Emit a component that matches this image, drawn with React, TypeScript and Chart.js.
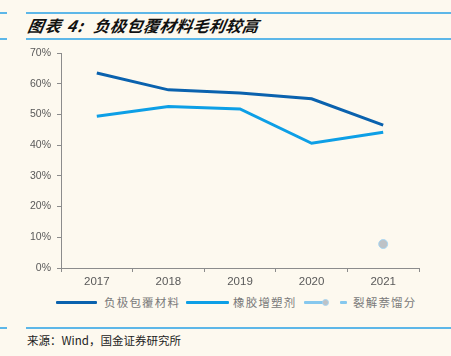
import React, { useEffect, useRef } from "react";
import { Chart, registerables } from "chart.js";

Chart.register(...registerables);

const categories = ["2017", "2018", "2019", "2020", "2021"];
const anodeCoating = [63.5, 58.0, 57.0, 55.1, 46.5];
const rubberPlasticizer = [49.4, 52.6, 51.8, 40.6, 44.2];
const unnamedSeries = [null, null, null, null, 7.8];
const crackedNaphthalene = [null, null, null, null, null];
const yTicks = [0, 10, 20, 30, 40, 50, 60, 70];

const seriesNames = ["负极包覆材料", "橡胶增塑剂", "", "裂解萘馏分"];
const titleLabel = "图表 4:";
const titleText = "负极包覆材料毛利较高";
const sourceText = "来源：Wind，国金证券研究所";

const BG = "#FDF9EF";
const DARK = "#0A62AE";
const LIGHT = "#0D9FE6";
const PALE = "#86C8EE";
const RULE = "#5DB7E8";

export default function App() {
  const ref = useRef<HTMLCanvasElement | null>(null);

  useEffect(() => {
    if (!ref.current) return;
    const chart = new Chart(ref.current, {
      type: "line",
      data: {
        labels: categories,
        datasets: [
          {
            label: seriesNames[0],
            data: anodeCoating,
            borderColor: DARK,
            backgroundColor: DARK,
            borderWidth: 3,
            pointRadius: 0,
            tension: 0,
          },
          {
            label: seriesNames[1],
            data: rubberPlasticizer,
            borderColor: LIGHT,
            backgroundColor: LIGHT,
            borderWidth: 3,
            pointRadius: 0,
            tension: 0,
          },
          {
            label: seriesNames[2],
            data: unnamedSeries,
            borderColor: PALE,
            backgroundColor: "#BFC3C6",
            borderWidth: 3,
            pointRadius: 4.5,
            pointBorderWidth: 1,
            pointBorderColor: "#A8D6F2",
            pointBackgroundColor: "#BEC2C6",
            tension: 0,
          },
          {
            label: seriesNames[3],
            data: crackedNaphthalene,
            borderColor: PALE,
            backgroundColor: PALE,
            borderWidth: 3,
            pointRadius: 0,
          },
        ],
      },
      options: {
        animation: false,
        responsive: false,
        maintainAspectRatio: false,
        layout: { padding: { top: 13, right: 32, left: 0, bottom: 0 } },
        plugins: { legend: { display: false }, tooltip: { enabled: false } },
        scales: {
          x: {
            offset: true,
            grid: {
              offset: true,
              drawOnChartArea: false,
              drawTicks: true,
              tickLength: 4,
              color: "#8C8C8C",
            },
            border: { display: true, color: "#8C8C8C", width: 1 },
            ticks: {
              color: "#595959",
              font: { family: "Arial, 'Liberation Sans'", size: 11.5 },
              padding: 3,
              maxRotation: 0,
            },
            afterFit: (s: any) => {
              s.height = 22;
            },
          },
          y: {
            min: 0,
            max: 70,
            afterBuildTicks: (s: any) => {
              s.ticks = yTicks.map((v) => ({ value: v }));
            },
            grid: {
              drawOnChartArea: false,
              drawTicks: true,
              tickLength: 4,
              color: "#8C8C8C",
            },
            border: { display: true, color: "#8C8C8C", width: 1 },
            ticks: {
              color: "#595959",
              font: { family: "Arial, 'Liberation Sans'", size: 10.5 },
              padding: 6,
              callback: (v: any) => `${v}%`,
            },
            afterFit: (s: any) => {
              s.width = 61;
            },
          },
        },
      },
    });
    return () => chart.destroy();
  }, []);

  const legendText: React.CSSProperties = {
    position: "absolute",
    top: 294,
    fontFamily: "'Noto Sans CJK SC', sans-serif",
    fontSize: 11.5,
    letterSpacing: 1.2,
    color: "#7A7A7A",
    lineHeight: "16px",
    whiteSpace: "nowrap",
  };

  const swatch = (left: number, width: number, color: string): React.CSSProperties => ({
    position: "absolute",
    left,
    top: 301,
    width,
    height: 3,
    background: color,
    borderRadius: 1,
  });

  const titleStyle: React.CSSProperties = {
    position: "absolute",
    top: 14,
    fontFamily: "'Noto Sans CJK SC', sans-serif",
    fontWeight: 700,
    fontStyle: "italic",
    fontSize: 16,
    lineHeight: "22px",
    color: "#111",
    whiteSpace: "pre",
    transform: "skewX(-10deg)",
  };

  return (
    <div
      style={{
        position: "fixed",
        left: 0,
        top: 0,
        width: 451,
        height: 356,
        background: BG,
        overflow: "hidden",
      }}
    >
      <div style={{ position: "absolute", left: 0, top: 12, width: 7, height: 1.5, background: RULE }} />
      <div style={{ position: "absolute", left: 26, top: 12, width: 425, height: 1.5, background: RULE }} />
      <div style={{ ...titleStyle, left: 28, letterSpacing: 1.2 }}>{titleLabel}</div>
      <div style={{ ...titleStyle, left: 94, letterSpacing: 0.5 }}>{titleText}</div>
      <div style={{ position: "absolute", left: 0, top: 38, width: 7, height: 1.5, background: RULE }} />
      <div style={{ position: "absolute", left: 26, top: 38, width: 425, height: 1.5, background: RULE }} />

      <canvas
        ref={ref}
        width={451}
        height={250}
        style={{ position: "absolute", left: 0, top: 40, width: 451, height: 250 }}
      />

      <div style={swatch(56, 41, DARK)} />
      <div style={{ ...legendText, left: 104 }}>{seriesNames[0]}</div>
      <div style={swatch(186, 43, LIGHT)} />
      <div style={{ ...legendText, left: 233 }}>{seriesNames[1]}</div>
      <div style={swatch(304, 22, PALE)} />
      <div
        style={{
          position: "absolute",
          left: 322,
          top: 299,
          width: 7,
          height: 7,
          borderRadius: "50%",
          background: "#BEC2C6",
          border: "1px solid #A8D6F2",
          boxSizing: "border-box",
        }}
      />
      <div style={swatch(340, 7, PALE)} />
      <div style={{ ...legendText, left: 353 }}>{seriesNames[3]}</div>

      <div style={{ position: "absolute", left: 0, top: 327, width: 7, height: 1.5, background: RULE }} />
      <div style={{ position: "absolute", left: 26, top: 327, width: 425, height: 1.5, background: RULE }} />
      <div
        style={{
          position: "absolute",
          left: 27,
          top: 332,
          fontFamily: "'Noto Sans CJK SC', sans-serif",
          fontSize: 11.5,
          lineHeight: "16px",
          color: "#222",
          whiteSpace: "nowrap",
        }}
      >
        {sourceText}
      </div>
    </div>
  );
}
